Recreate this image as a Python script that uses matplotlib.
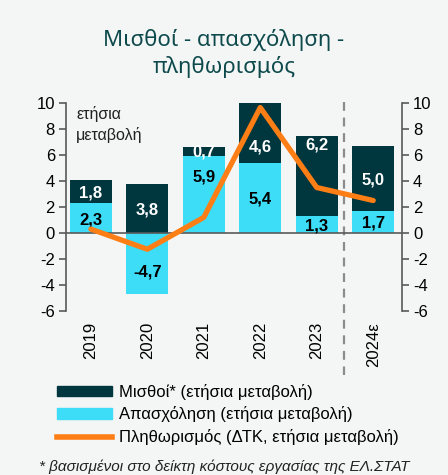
import numpy as np
import matplotlib.pyplot as plt
from matplotlib.patches import Patch
from matplotlib.lines import Line2D

years = ["2019", "2020", "2021", "2022", "2023", "2024ε"]
employment = [2.3, -4.7, 5.9, 5.4, 1.3, 1.7]
wages = [1.8, 3.8, 0.7, 4.6, 6.2, 5.0]
inflation = [0.3, -1.25, 1.2, 9.65, 3.5, 2.5]

# where the value labels sit (data units)
emp_label_y = [1.0, -3.0, 4.3, 2.6, 0.55, 0.75]
wage_label_y = [3.1, 1.8, 6.2, 6.6, 6.75, 4.1]

bg = "#f4f6f6"
dark = "#00363d"
cyan = "#3ddcf7"
orange = "#fd7e14"
axis_col = "#595959"

plt.rcParams["font.family"] = ["Liberation Sans", "DejaVu Sans"]
plt.rcParams["axes.unicode_minus"] = False

fig = plt.figure(figsize=(4.48, 4.75), dpi=100, facecolor=bg)
ax = fig.add_axes([66 / 448, 1 - 311 / 475, 336 / 448, 208 / 475], facecolor=bg)

x = np.arange(len(years))
# wages stacked on positive employment, from zero otherwise
base = [e if e > 0 else 0 for e in employment]
ax.bar(x, employment, width=0.74, color=cyan, zorder=2)
ax.bar(x, wages, width=0.74, bottom=base, color=dark, zorder=2)
ax.plot(x, inflation, color=orange, lw=3.8, zorder=4, solid_capstyle="round")
ax.axhline(0, color=axis_col, lw=1.2, zorder=3)

for i in range(len(years)):
    ax.text(x[i], emp_label_y[i], f"{employment[i]:.1f}".replace(".", ","),
            ha="center", va="center", fontsize=12, fontweight="bold",
            color="black", zorder=3)
    ax.text(x[i], wage_label_y[i], f"{wages[i]:.1f}".replace(".", ","),
            ha="center", va="center", fontsize=12, fontweight="bold",
            color="white", zorder=3)

ax.set_xlim(-0.44, 5.51)
ax.set_ylim(-6, 10)
ax.set_yticks(np.arange(-6, 11, 2))
ax.tick_params(axis="y", labelsize=12, color=axis_col, length=5, width=1.2,
               labelright=True, right=True, pad=3)
ax.set_xticks(x)
ax.set_xticklabels(years, rotation=90, fontsize=12)
ax.tick_params(axis="x", length=0, pad=8)
for s in ["top", "bottom"]:
    ax.spines[s].set_visible(False)
for s in ["left", "right"]:
    ax.spines[s].set_color(axis_col)
    ax.spines[s].set_linewidth(1.2)

ax.plot([4.48, 4.48], [10.1, -10.9], ls=(0, (4, 3)), color="#8c8c8c", lw=1.6,
        clip_on=False, zorder=1)

ax.text(0.03, 0.985, "ετήσια\nμεταβολή", transform=ax.transAxes, ha="left", va="top",
        fontsize=11.5, color="#222222", linespacing=1.4)

fig.text(0.5, 0.888, "Μισθοί - απασχόληση -\nπληθωρισμός", ha="center", va="center",
         fontsize=16, color="#0e4a4c", family=["Noto Sans", "DejaVu Sans"],
         fontweight="semibold", linespacing=1.3)

handles = [Patch(color=dark), Patch(color=cyan),
           Line2D([0], [0], color=orange, lw=4)]
labels = ["Μισθοί* (ετήσια μεταβολή)", "Απασχόληση (ετήσια μεταβολή)",
          "Πληθωρισμός (ΔΤΚ, ετήσια μεταβολή)"]
fig.legend(handles, labels, loc="upper left", bbox_to_anchor=(0.128, 0.192),
           frameon=False, fontsize=12, handlelength=3.3, handleheight=0.6,
           handletextpad=0.4, labelspacing=0.4, borderaxespad=0, borderpad=0)

fig.text(0.5, 0.018, "* βασισμένοι στο δείκτη κόστους εργασίας της ΕΛ.ΣΤΑΤ",
         ha="center", va="center", fontsize=11, style="italic", color="#222222")

fig.savefig("out.png", dpi=100, facecolor=bg)
